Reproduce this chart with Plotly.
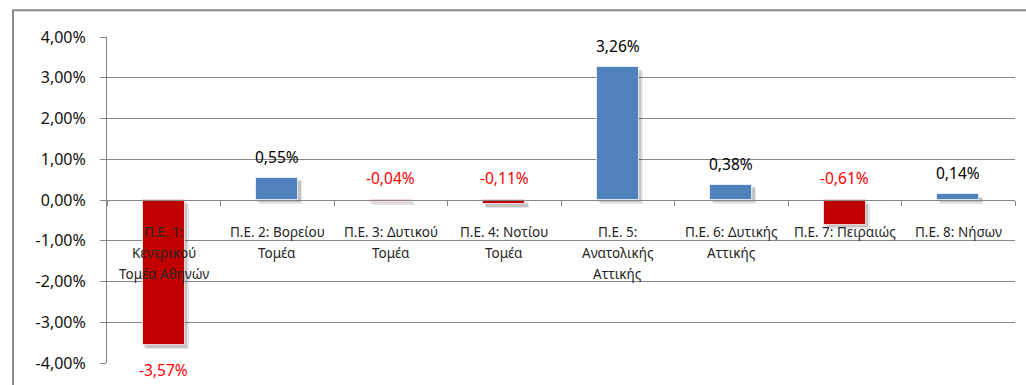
import plotly.graph_objects as go

# Regional units (Περιφερειακές Ενότητες) and their percentage change
categories = [
    "Π.Ε. 1:<br>Κεντρικού<br>Τομέα Αθηνών",
    "Π.Ε. 2: Βορείου<br>Τομέα",
    "Π.Ε. 3: Δυτικού<br>Τομέα",
    "Π.Ε. 4: Νοτίου<br>Τομέα",
    "Π.Ε. 5:<br>Ανατολικής<br>Αττικής",
    "Π.Ε. 6: Δυτικής<br>Αττικής",
    "Π.Ε. 7: Πειραιώς",
    "Π.Ε. 8: Νήσων",
]
change_pct = [-3.57, 0.55, -0.04, -0.11, 3.26, 0.38, -0.61, 0.14]
y_ticks = [-4, -3, -2, -1, 0, 1, 2, 3, 4]

BLUE = "#4F81BD"
RED = "#C00000"
FONT = "Noto Sans"
BAR_W = 0.37


def fmt_pct(v):
    return f"{v:.2f}".replace(".", ",") + "%"


idx = list(range(len(categories)))
colors = [BLUE if v >= 0 else RED for v in change_pct]

fig = go.Figure()

# soft drop shadow under each bar
for dx, dy, a in [(0.03, 0.09, 0.10), (0.018, 0.06, 0.14)]:
    fig.add_trace(go.Bar(
        x=idx, y=change_pct,
        base=[-dy] * len(change_pct),
        width=BAR_W + 0.01, offset=-BAR_W / 2 + dx - 0.005,
        marker=dict(color=f"rgba(0,0,0,{a})", line=dict(width=0)),
        hoverinfo="skip", showlegend=False,
    ))

fig.add_trace(go.Bar(
    x=idx, y=change_pct, width=BAR_W,
    marker=dict(color=colors, line=dict(color="rgba(255,255,255,0.7)", width=1)),
    showlegend=False,
))

annotations = []
# value labels
for i, v in zip(idx, change_pct):
    if v >= 0:
        y, shift, col = v, 21, "#000000"
    elif v > -1:
        y, shift, col = 0, 22, "#FF0000"
    else:
        y, shift, col = v, -25, "#FF0000"
    annotations.append(dict(
        x=i, y=y, xref="x", yref="y", text=fmt_pct(v), showarrow=False,
        yanchor="middle", yshift=shift,
        font=dict(family=FONT, size=15.5, color=col),
    ))

# category labels under the zero line
for i, cat in zip(idx, categories):
    for k, line in enumerate(cat.split("<br>")):
        annotations.append(dict(
            x=i, y=0, xref="x", yref="y", text=line, showarrow=False,
            yanchor="middle", yshift=-32 - 21 * k,
            font=dict(family=FONT, size=13.5, color="#262626"),
        ))

fig.update_layout(
    width=1026, height=385,
    margin=dict(l=107, r=11, t=37, b=19),
    paper_bgcolor="white", plot_bgcolor="white",
    barmode="overlay", bargap=0,
    annotations=annotations,
    shapes=[dict(
        type="rect", xref="paper", yref="paper",
        x0=-0.1035, x1=1.05, y0=-0.3, y1=1.082,
        line=dict(color="#8a8a8a", width=2), layer="above",
    )],
    font=dict(family=FONT),
)

fig.update_xaxes(
    type="linear", range=[-0.5, len(categories) - 0.5],
    tickmode="array", tickvals=[i - 0.5 for i in range(len(categories) + 1)],
    showticklabels=False, ticks="outside", ticklen=5, tickcolor="#868686",
    showline=True, linecolor="#868686", linewidth=1,
    anchor="free", position=0.5, showgrid=False, zeroline=False,
)

fig.update_yaxes(
    range=[-4, 4], tickmode="array", tickvals=y_ticks,
    ticktext=[fmt_pct(t) for t in y_ticks],
    ticks="outside", ticklen=6, tickcolor="#868686", ticklabelstandoff=11,
    showline=True, linecolor="#868686", linewidth=1,
    showgrid=True, gridcolor="#868686", gridwidth=1, zeroline=False,
    tickfont=dict(family=FONT, size=16, color="#111111"),
)

fig.write_html("out.html")
